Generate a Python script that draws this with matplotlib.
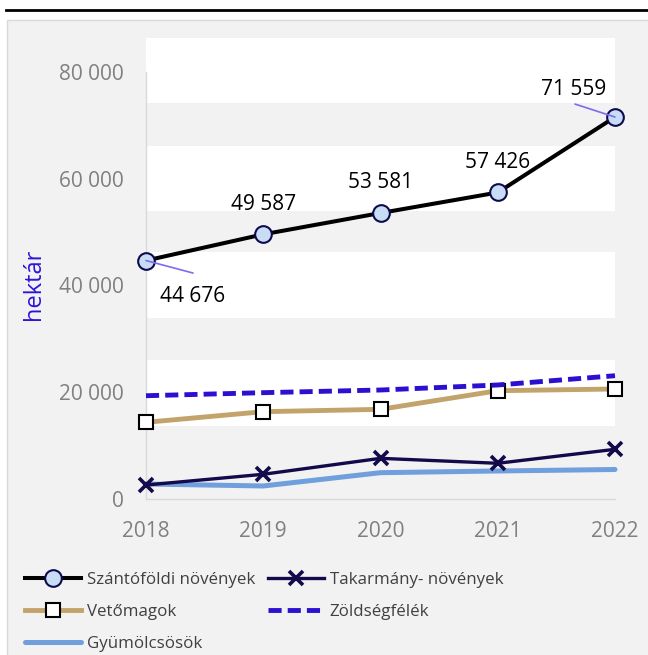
import matplotlib
matplotlib.use('Agg')
import matplotlib.pyplot as plt
from matplotlib.patches import Rectangle
from matplotlib.lines import Line2D

plt.rcParams['font.family'] = ['Open Sans', 'DejaVu Sans']

# ---- data ----
years = [2018, 2019, 2020, 2021, 2022]
szantofoldi = [44676, 49587, 53581, 57426, 71559]
takarmany = [2620, 4630, 7620, 6690, 9310]
vetomagok = [14370, 16360, 16800, 20290, 20610]
zoldseg = [19350, 19920, 20420, 21360, 23100]
gyumolcs = [2810, 2440, 4930, 5250, 5530]
names = ['Szántóföldi növények', 'Takarmány- növények', 'Vetőmagok',
         'Zöldségfélék', 'Gyümölcsösök']
yticks = [0, 20000, 40000, 60000, 80000]
ylabel = 'hektár'


def fmt(v):
    return f"{v:,}".replace(',', ' ')


# ---- figure ----
W, H = 648, 655
fig = plt.figure(figsize=(W / 100, H / 100), dpi=100)
fig.patch.set_facecolor('white')

panel = Rectangle((7 / W, -0.02), 1.1, (H - 20) / H + 0.02, transform=fig.transFigure,
                  facecolor='#F2F2F2', edgecolor='#D9D9D9', lw=1, zorder=-10)
fig.add_artist(panel)
fig.add_artist(Line2D([6 / W, 1], [1 - 10 / H] * 2, color='black', lw=2, zorder=-5))

ax = fig.add_axes([146 / W, 1 - 499 / H, (615 - 146) / W, (499 - 38) / H])
ax.set_zorder(1)
ax.set_facecolor('none')
ax.set_xlim(2018, 2022)
ax.set_ylim(0, 86370)

bands = [(13680, 26040), (33910, 46280), (53960, 66140), (74190, 86370)]
for lo, hi in bands:
    ax.axhspan(lo, hi, color='white', lw=0, zorder=0)

for s in ['top', 'right']:
    ax.spines[s].set_visible(False)
ax.spines['left'].set_color('#D9D9D9')
ax.spines['left'].set_bounds(0, 80000)
ax.spines['bottom'].set_color('#D9D9D9')
ax.spines['left'].set_linewidth(1)
ax.spines['bottom'].set_linewidth(1)

ax.set_yticks(yticks)
ax.set_yticklabels([fmt(v) for v in yticks])
ax.set_xticks(years)
ax.set_xticklabels([str(y) for y in years])
ax.tick_params(axis='both', length=0, labelsize=15, labelcolor='#808080')
ax.tick_params(axis='y', pad=16)
ax.tick_params(axis='x', pad=16)

fig.text(34 / W, 1 - 284 / H, ylabel, rotation=90, ha='center', va='center',
         fontsize=17, color='#2E14D6')

# ---- series ----
l_gy, = ax.plot(years, gyumolcs, color='#6F9FDC', lw=3.6, solid_capstyle='round',
                clip_on=False, zorder=3, label=names[4])
l_ta, = ax.plot(years, takarmany, color='#120A4A', lw=2.4, marker='x', ms=10, mew=2.6,
                clip_on=False, zorder=4, label=names[1])
l_ve, = ax.plot(years, vetomagok, color='#C2A36B', lw=3.5, marker='s', ms=10,
                mfc='white', mec='black', mew=1.5, clip_on=False, zorder=5, label=names[2])
l_zo, = ax.plot(years, zoldseg, color='#2C10D0', lw=3.5, dashes=(2.7, 1.25),
                clip_on=False, zorder=6, label=names[3])
l_sz, = ax.plot(years, szantofoldi, color='black', lw=2.9, marker='o', ms=12,
                mfc='#C9DCF5', mec='#0D0B4D', mew=1.5, clip_on=False, zorder=7,
                label=names[0])

# data labels
offsets = [(47, -36), (0, 30), (0, 30.5), (0, 30), (-41, 28)]
for x, v, off in zip(years, szantofoldi, offsets):
    ax.annotate(fmt(v), (x, v), xytext=off, textcoords='offset pixels',
                ha='center', va='center', fontsize=15, color='black', zorder=8)
# leader lines
leaders = [(0, (47, -12.5)), (4, (-40, 13))]
for i, off in leaders:
    ax.annotate('', (years[i], szantofoldi[i]), xytext=off, textcoords='offset pixels',
                arrowprops=dict(arrowstyle='-', color='#7B6CF0', lw=1.2,
                                shrinkA=0, shrinkB=0), zorder=8)

handles = [l_sz, l_ve, l_gy, l_ta, l_zo]
fig.legend(handles, [h.get_label() for h in handles], loc='upper left',
           bbox_to_anchor=(25 / W, 1 - 572 / H), ncol=2, frameon=False,
           fontsize=12.2, labelcolor='#404040', handlelength=3.3, handletextpad=0.35,
           columnspacing=0.75, labelspacing=0.95, borderpad=0, borderaxespad=0)

fig.savefig('out.png', dpi=100)
